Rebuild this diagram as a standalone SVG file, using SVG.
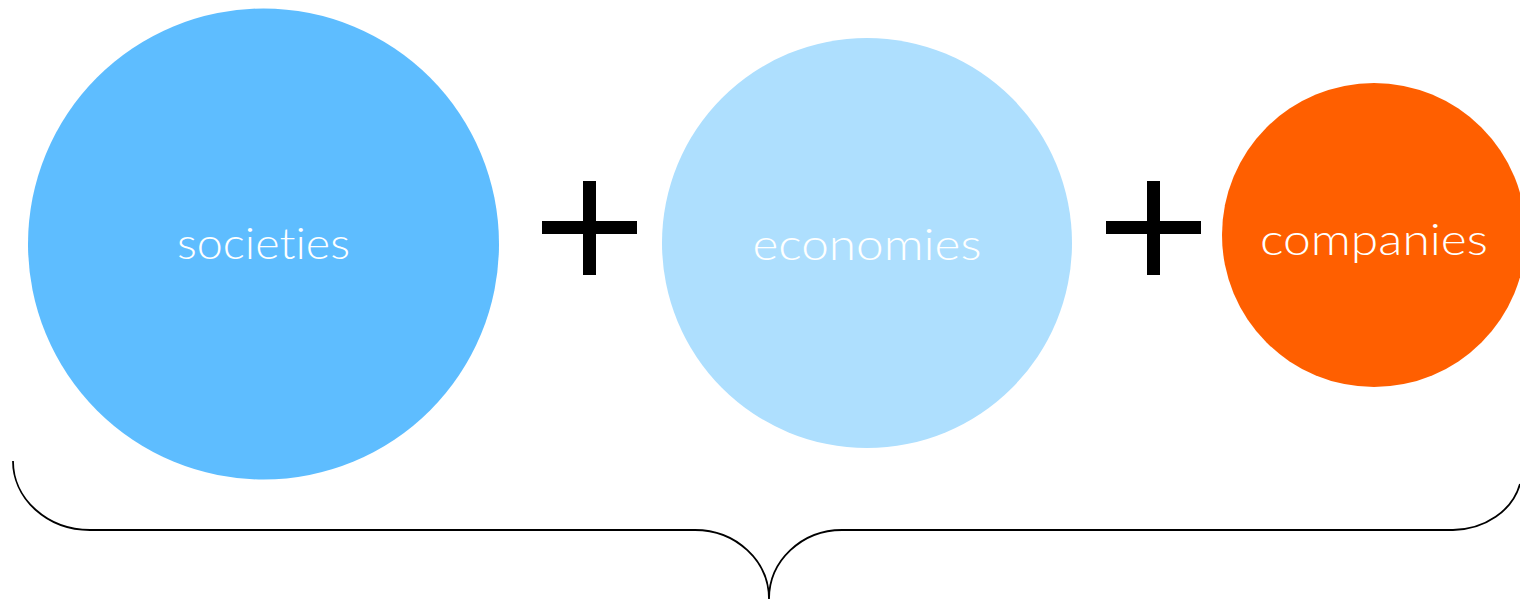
<svg xmlns="http://www.w3.org/2000/svg" width="1520" height="600" viewBox="0 0 1520 600">
<style>
.lbl{font-family:"Lato","Open Sans","Liberation Sans",sans-serif;font-weight:300;font-size:43px;fill:#ffffff;text-anchor:middle;font-variant-ligatures:none;font-feature-settings:"liga" 0}
.plus{fill:#000000}
.brace{fill:none;stroke:#000000;stroke-width:1.8}
</style>
<rect width="1520" height="600" fill="#ffffff"/>
<g id="societies">
<circle cx="263.5" cy="244" r="235.5" fill="#5EBDFF"/>
<text class="lbl" x="263.5" y="259" textLength="173" lengthAdjust="spacingAndGlyphs">societies</text>
</g>
<g id="plus1">
<rect class="plus" x="583" y="181" width="13" height="94"/>
<rect class="plus" x="542" y="221" width="95" height="13"/>
</g>
<g id="economies">
<circle cx="867" cy="243" r="205" fill="#AEDFFE"/>
<text class="lbl" x="867" y="260" textLength="229" lengthAdjust="spacingAndGlyphs">economies</text>
</g>
<g id="plus2">
<rect class="plus" x="1147" y="181" width="13" height="94"/>
<rect class="plus" x="1106" y="221" width="95" height="13"/>
</g>
<g id="companies">
<circle cx="1374" cy="235" r="152" fill="#FF5F00"/>
<text class="lbl" x="1374" y="255" textLength="228" lengthAdjust="spacingAndGlyphs">companies</text>
</g>
<g id="connectors">
<path class="brace" d="M13,461 A77,69 0 0 0 90,530 L695,530 A74,69 0 0 1 769,599 A73,69 0 0 1 842,530 L1453,530 A70,60 0 0 0 1520,484"/>
</g>
</svg>
